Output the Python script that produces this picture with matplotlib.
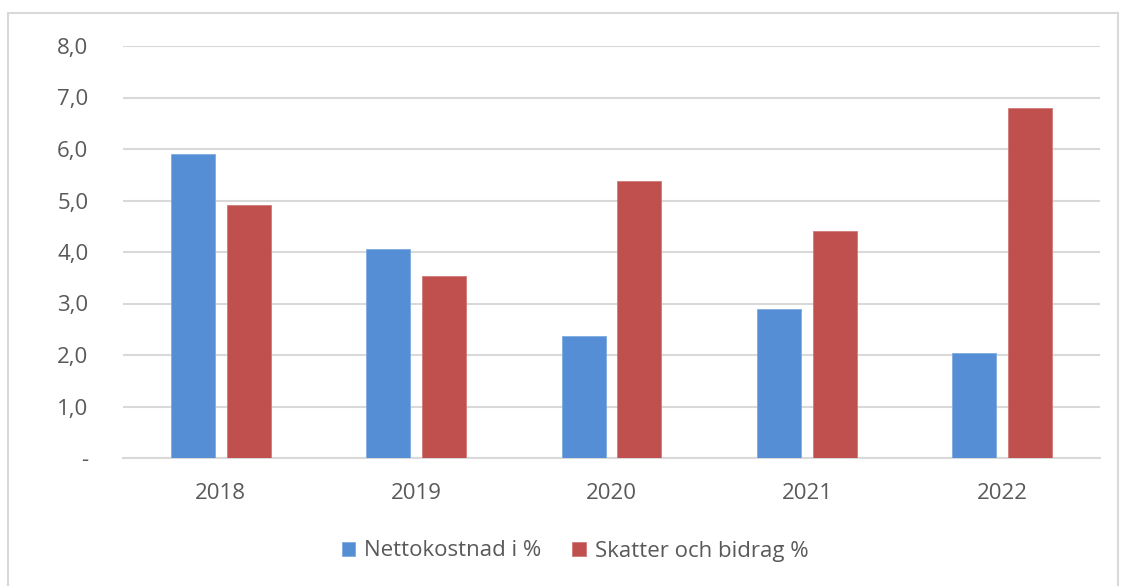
import matplotlib
matplotlib.use("Agg")
import matplotlib.pyplot as plt
from matplotlib.patches import Rectangle
import numpy as np

years = ["2018", "2019", "2020", "2021", "2022"]
nettokostnad = [5.90, 4.06, 2.37, 2.89, 2.04]
skatter = [4.91, 3.53, 5.38, 4.41, 6.80]
yticks = [0, 1, 2, 3, 4, 5, 6, 7, 8]
ytick_labels = ["-", "1,0", "2,0", "3,0", "4,0", "5,0", "6,0", "7,0", "8,0"]

plt.rcParams['font.family'] = ['Open Sans', 'DejaVu Sans']
W, H = 1124, 586
fig = plt.figure(figsize=(W/100, H/100), dpi=100)
fig.patch.set_facecolor('white')
fig.patches.append(Rectangle((8/W, -0.01), (1118-8)/W, 1 - 13/H + 0.01, transform=fig.transFigure,
                             fill=False, edgecolor='#D9D9D9', linewidth=1.5))

ax = fig.add_axes([123/W, 1-458/H, (1100-123)/W, (458-46)/H])
x = np.arange(len(years))
w = 0.225
off = 0.143
blue = '#558ED5'
red = '#C0504D'
ax.bar(x - off, nettokostnad, w, color=blue, edgecolor='#7FAAE0', linewidth=0.6, label='Nettokostnad i %', zorder=3)
ax.bar(x + off, skatter, w, color=red, edgecolor='#D07A77', linewidth=0.6, label='Skatter och bidrag %', zorder=3)

ax.set_xlim(-0.5, len(years)-0.5)
ax.set_ylim(0, 8)
ax.set_yticks(yticks)
ax.set_yticklabels(ytick_labels)
ax.set_xticks(x)
ax.set_xticklabels(years)
ax.grid(axis='y', color='#D9D9D9', linewidth=1.5, zorder=0)
for s in ['top', 'right', 'left']:
    ax.spines[s].set_visible(False)
ax.spines['bottom'].set_color('#D9D9D9')
ax.spines['bottom'].set_linewidth(1.5)
ax.tick_params(axis='both', length=0, labelsize=16, colors='#595959')
ax.tick_params(axis='y', pad=25)
ax.tick_params(axis='x', pad=18)

leg = fig.legend(loc='center', bbox_to_anchor=(575/W, 1-551/H), ncol=2, frameon=False,
                 fontsize=16, handlelength=0.6, handleheight=0.6, columnspacing=1.4, handletextpad=0.4)
for t in leg.get_texts():
    t.set_color('#595959')

fig.savefig('out.png', dpi=100)
